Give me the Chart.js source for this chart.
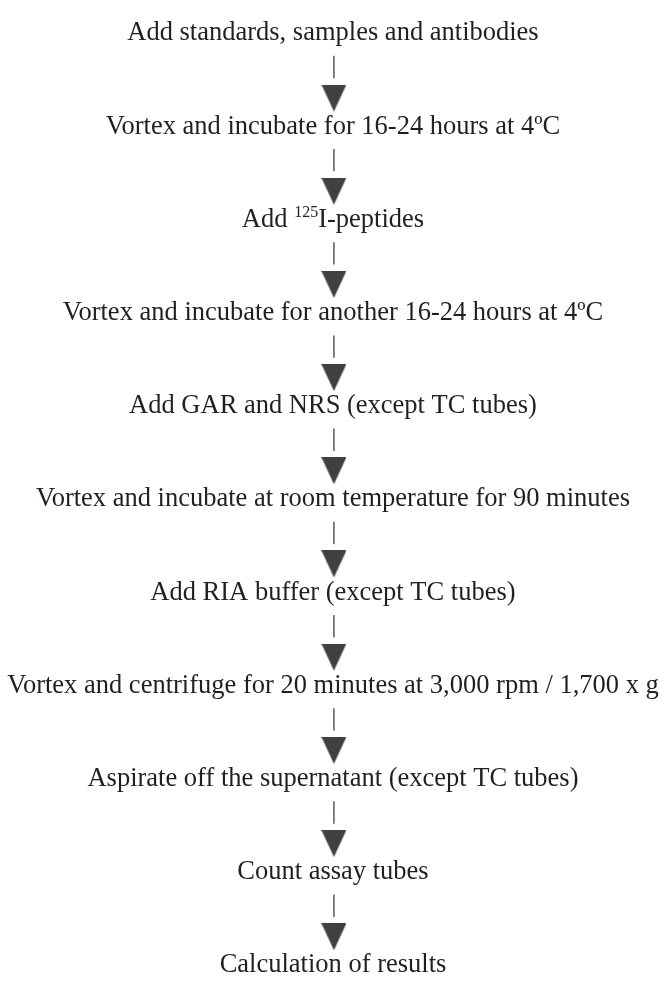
<!DOCTYPE html>
<html>
<head>
<meta charset="utf-8">
<script src="https://cdn.jsdelivr.net/npm/chart.js@4.4.1/dist/chart.umd.min.js"></script>
<style>
  html, body { margin: 0; padding: 0; background: #ffffff; }
  #wrap { width: 665px; height: 992px; position: relative; }
</style>
</head>
<body>
<div id="wrap"><canvas id="c" width="665" height="992"></canvas></div>
<script>
// ---- data ----
const steps = [
  "Add standards, samples and antibodies",
  "Vortex and incubate for 16-24 hours at 4ºC",
  "Add ^125^I-peptides",
  "Vortex and incubate for another 16-24 hours at 4ºC",
  "Add GAR and NRS (except TC tubes)",
  "Vortex and incubate at room temperature for 90 minutes",
  "Add RIA buffer (except TC tubes)",
  "Vortex and centrifuge for 20 minutes at 3,000 rpm / 1,700 x g",
  "Aspirate off the supernatant (except TC tubes)",
  "Count assay tubes",
  "Calculation of results"
];
const stepIndex = steps.map((s, i) => i);
const arrowFrom = stepIndex.slice(0, -1);   // an arrow leaves every step but the last

// ---- styling / layout ----
const CX = 334;
const TEXT_COLOR = '#231f20';
const ARROW_COLOR = '#404040';
const FONT = '"Liberation Serif", "Times New Roman", serif';
const FONT_SIZE = 26.5;

// arrowhead image used as point style
function makeHead() {
  const w = 25, h = 27;
  const cv = document.createElement('canvas');
  cv.width = w; cv.height = h;
  const g = cv.getContext('2d');
  g.fillStyle = ARROW_COLOR;
  g.beginPath();
  g.moveTo(0, 0); g.lineTo(w, 0); g.lineTo(w / 2, h); g.closePath();
  g.fill();
  return cv;
}
const head = makeHead();

// connector stems (segments broken with nulls)
const stemData = [];
arrowFrom.forEach(i => {
  stemData.push({ x: CX, y: i + 0.240 });
  stemData.push({ x: CX, y: i + 0.480 });
  stemData.push({ x: CX, y: null });
});
const headData = arrowFrom.map(i => ({ x: CX, y: i + 0.693 }));

const labelPlugin = {
  id: 'stepLabels',
  afterDatasetsDraw(chart) {
    const ctx = chart.ctx;
    const ys = chart.scales.y, xs = chart.scales.x;
    ctx.save();
    ctx.fillStyle = TEXT_COLOR;
    ctx.textBaseline = 'middle';
    steps.forEach((s, i) => {
      const y = ys.getPixelForValue(i);
      const x = xs.getPixelForValue(CX - 1);
      const parts = s.split('^');
      const segs = parts.map((p, k) => ({ t: p, sup: k % 2 === 1 }));
      let total = 0;
      segs.forEach(sg => {
        ctx.font = (sg.sup ? Math.round(FONT_SIZE * 0.62) : FONT_SIZE) + 'px ' + FONT;
        sg.w = ctx.measureText(sg.t).width;
        total += sg.w;
      });
      let cx = x - total / 2;
      ctx.textAlign = 'left';
      segs.forEach(sg => {
        ctx.font = (sg.sup ? Math.round(FONT_SIZE * 0.62) : FONT_SIZE) + 'px ' + FONT;
        ctx.fillText(sg.t, cx, sg.sup ? y - FONT_SIZE * 0.27 : y);
        cx += sg.w;
      });
    });
    ctx.restore();
  }
};

new Chart(document.getElementById('c'), {
  type: 'scatter',
  data: {
    datasets: [
      {
        label: 'stems',
        data: stemData,
        showLine: true,
        spanGaps: false,
        borderColor: ARROW_COLOR,
        borderWidth: 1.3,
        pointRadius: 0,
        fill: false
      },
      {
        label: 'heads',
        data: headData,
        pointStyle: head,
        pointRadius: 13,
        showLine: false
      }
    ]
  },
  options: {
    responsive: false,
    animation: false,
    events: [],
    layout: { padding: 0 },
    plugins: { legend: { display: false }, tooltip: { enabled: false } },
    scales: {
      x: { type: 'linear', display: false, min: 0, max: 665 },
      y: { type: 'linear', display: false, reverse: true, min: -0.2086, max: 10.1356 }
    }
  },
  plugins: [labelPlugin]
});
</script>
</body>
</html>
